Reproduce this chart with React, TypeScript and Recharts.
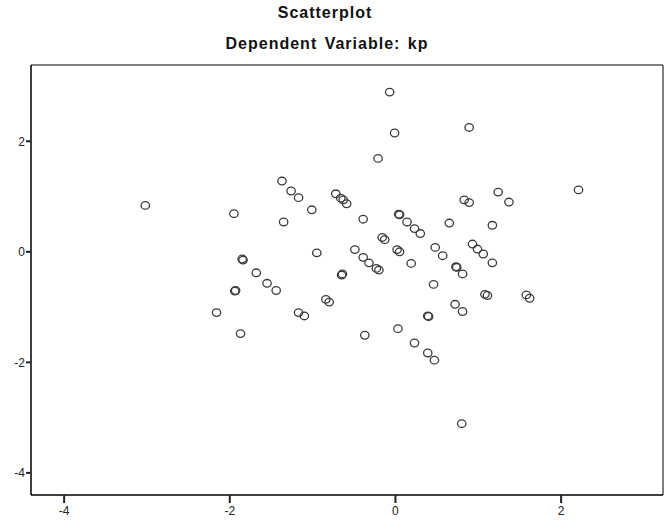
import { ScatterChart, Scatter, XAxis, YAxis, ReferenceArea } from 'recharts'

// regression standardized predicted value (x) vs standardized residual (y)
const stdPredicted = [
  -0.07, -0.01, 0.89, -0.21, -3.02, 2.21, -1.37, -1.26, -1.17, -1.01,
  -1.35, -1.95, -0.72, -0.66, -0.63, -0.59, -0.39, 0.04, 0.05, 0.14,
  0.23, 0.3, -0.16, -0.13, 0.65, 0.83, 0.89, 1.24, 1.37, 1.17,
  -0.95, -1.85, -1.84, -0.65, -0.64, -1.68, -1.55, -1.44, -1.94, -1.93,
  -0.84, -0.8, -2.16, -1.17, -1.1, -1.87, -0.49, -0.39, -0.32, -0.23,
  -0.2, 0.02, 0.05, 0.19, 0.48, 0.57, 0.93, 0.99, 1.06, 1.17,
  0.73, 0.74, 0.81, 0.46, 1.08, 1.11, 1.58, 1.62, 0.72, 0.81,
  0.39, 0.4, -0.37, 0.03, 0.23, 0.39, 0.47, 0.8,
]
const stdResidual = [
  2.89, 2.15, 2.25, 1.69, 0.84, 1.12, 1.28, 1.1, 0.98, 0.76,
  0.54, 0.69, 1.05, 0.97, 0.94, 0.87, 0.59, 0.68, 0.67, 0.54,
  0.42, 0.33, 0.26, 0.22, 0.52, 0.94, 0.89, 1.08, 0.9, 0.48,
  -0.02, -0.13, -0.15, -0.42, -0.4, -0.38, -0.57, -0.7, -0.71, -0.7,
  -0.86, -0.91, -1.1, -1.1, -1.16, -1.48, 0.04, -0.1, -0.2, -0.3,
  -0.33, 0.04, 0.0, -0.21, 0.08, -0.07, 0.14, 0.05, -0.04, -0.2,
  -0.27, -0.28, -0.4, -0.59, -0.77, -0.79, -0.78, -0.84, -0.95, -1.08,
  -1.16, -1.17, -1.51, -1.39, -1.65, -1.83, -1.96, -3.11,
]
const xTicks = [-4, -2, 0, 2]
const yTicks = [-4, -2, 0, 2]

const xDomain: [number, number] = [-4.4, 3.23]
const yDomain: [number, number] = [-4.4, 3.38]

const font = '"Liberation Sans", Arial, sans-serif'

function Ring(props: any) {
  const { cx, cy } = props
  if (cx == null || cy == null) return null
  return <ellipse cx={cx} cy={cy} rx={4.2} ry={3.8} fill="none" stroke="#3a3a3a" strokeWidth={1.3} />
}

export default function App() {
  const data = stdPredicted.map((x, i) => ({ x, y: stdResidual[i] }))

  return (
    <div style={{ position: 'absolute', left: 0, top: 0, width: 665, height: 520, background: '#fff', fontFamily: font }}>
      <div
        style={{
          position: 'absolute', left: 0, width: 650, top: 4, textAlign: 'center',
          fontSize: 16, fontWeight: 'bold', letterSpacing: 1, color: '#111',
        }}
      >
        Scatterplot
      </div>
      <div
        style={{
          position: 'absolute', left: 0, width: 654, top: 35, textAlign: 'center',
          fontSize: 16, fontWeight: 'bold', letterSpacing: 1, wordSpacing: 2, color: '#111',
        }}
      >
        Dependent Variable: kp
      </div>
      <ScatterChart width={665} height={520} margin={{ top: 65, right: 2, bottom: 0, left: 0 }}>
        <ReferenceArea
          x1={xDomain[0]}
          x2={xDomain[1]}
          y1={yDomain[0]}
          y2={yDomain[1]}
          fill="none"
          stroke="#000"
          strokeWidth={1}
          fillOpacity={0}
        />
        <XAxis
          type="number"
          dataKey="x"
          domain={xDomain}
          ticks={xTicks}
          allowDataOverflow
          height={25}
          tickSize={8}
          tickMargin={3}
          stroke="#000"
          tickLine={{ stroke: '#222', strokeWidth: 2 }}
          tick={{ fontSize: 12, fill: '#222', fontFamily: font }}
        />
        <YAxis
          type="number"
          dataKey="y"
          domain={yDomain}
          ticks={yTicks}
          allowDataOverflow
          width={31}
          tickSize={5}
          tickMargin={1}
          stroke="#000"
          tickLine={{ stroke: '#222', strokeWidth: 2 }}
          tick={{ fontSize: 12, fill: '#222', fontFamily: font }}
        />
        <Scatter data={data} shape={Ring} isAnimationActive={false} />
      </ScatterChart>
    </div>
  )
}
